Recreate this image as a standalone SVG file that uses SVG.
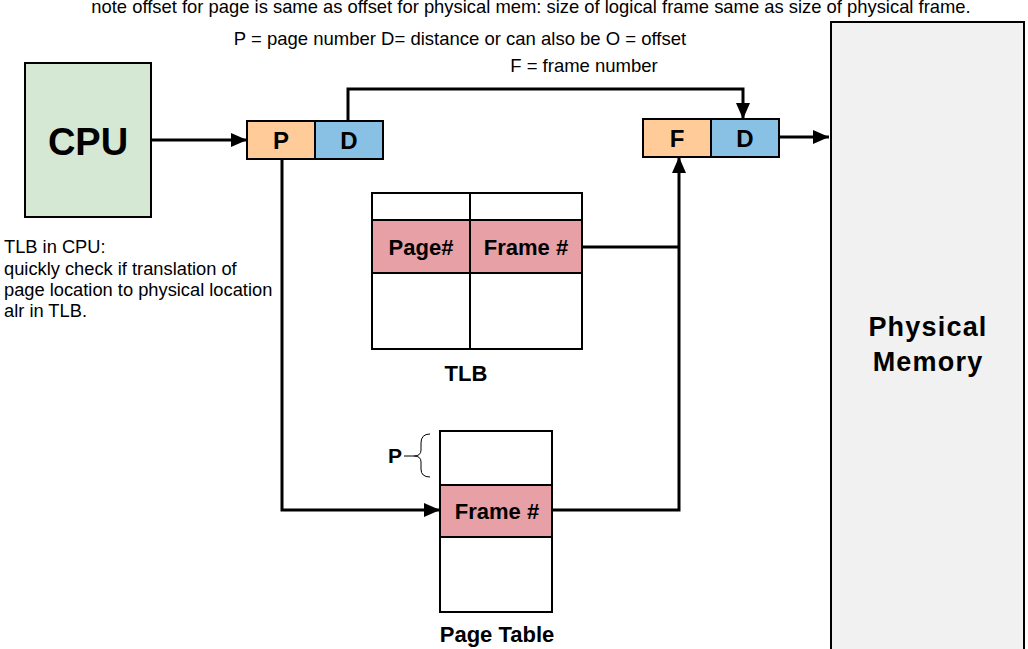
<svg xmlns="http://www.w3.org/2000/svg" width="1028" height="649" viewBox="0 0 1028 649">
<style>
.t{font-family:"Liberation Sans",Arial,sans-serif;fill:#000}
.b{font-weight:bold}
.box{stroke:#000;stroke-width:2}
.ln{fill:none;stroke:#000;stroke-width:3}
</style>
<defs>
<marker id="ah" viewBox="0 0 16 14" refX="16" refY="7" markerWidth="16" markerHeight="14" markerUnits="userSpaceOnUse" orient="auto" overflow="visible">
<path d="M0,0 L16,7 L0,14 Z" fill="#000"/>
</marker>
</defs>
<rect width="1028" height="649" fill="#fff"/>
<text class="t" x="531" y="13" font-size="18.4" text-anchor="middle">note offset for page is same as offset for physical mem: size of logical frame same as size of physical frame.</text>
<text class="t" x="460" y="45" font-size="18.5" text-anchor="middle">P = page number D= distance or can also be O = offset</text>
<text class="t" x="584" y="72" font-size="18.5" text-anchor="middle">F = frame number</text>
<g id="cpu">
<rect class="box" x="25" y="63" width="126" height="154" fill="#d5e8d4"/>
<text class="t b" x="88" y="155" font-size="38" text-anchor="middle">CPU</text>
</g>
<g id="cpu-note">
<text class="t" x="4" font-size="18.3"><tspan x="4" y="253">TLB in CPU:</tspan><tspan x="4" y="275">quickly check if translation of</tspan><tspan x="4" y="296">page location to physical location</tspan><tspan x="4" y="317">alr in TLB.</tspan></text>
</g>
<g id="logical-address">
<rect class="box" x="247" y="121" width="68" height="38" fill="#ffcc99"/>
<rect class="box" x="315" y="121" width="68" height="38" fill="#89c1e4"/>
<text class="t b" x="281" y="149" font-size="24" text-anchor="middle">P</text>
<text class="t b" x="349" y="149" font-size="24" text-anchor="middle">D</text>
</g>
<g id="physical-address">
<rect class="box" x="643" y="119" width="68" height="38" fill="#ffcc99"/>
<rect class="box" x="711" y="119" width="68" height="38" fill="#89c1e4"/>
<text class="t b" x="677" y="147" font-size="24" text-anchor="middle">F</text>
<text class="t b" x="745" y="147" font-size="24" text-anchor="middle">D</text>
</g>
<g id="tlb">
<rect class="box" x="372" y="193" width="210" height="156" fill="#fff"/>
<rect class="box" x="372" y="220" width="210" height="53" fill="#e6a0a6"/>
<line class="box" x1="470" y1="193" x2="470" y2="349"/>
<text class="t b" x="421" y="255" font-size="22" text-anchor="middle">Page#</text>
<text class="t b" x="526" y="255" font-size="22" text-anchor="middle">Frame #</text>
<text class="t b" x="466" y="381" font-size="22" text-anchor="middle">TLB</text>
</g>
<g id="page-table">
<rect class="box" x="440" y="431" width="112" height="181" fill="#fff"/>
<rect class="box" x="440" y="485" width="112" height="52" fill="#e6a0a6"/>
<text class="t b" x="497" y="519" font-size="22" text-anchor="middle">Frame #</text>
<text class="t b" x="497" y="642" font-size="22" text-anchor="middle">Page Table</text>
<path d="M430,434 Q421,434 421,443 L421,450 Q421,456 414,456 Q421,456 421,462 L421,469 Q421,477 430,477" fill="none" stroke="#000" stroke-width="1"/>
<line x1="404" y1="456" x2="414" y2="456" stroke="#000" stroke-width="1"/>
<text class="t b" x="395" y="463" font-size="21" text-anchor="middle">P</text>
</g>
<g id="physical-memory">
<rect class="box" x="831" y="22" width="193" height="640" fill="#f1f1f1"/>
<text class="t b" x="928" y="336" font-size="27" text-anchor="middle" letter-spacing="1.2">Physical</text>
<text class="t b" x="928" y="371" font-size="27" text-anchor="middle" letter-spacing="1.2">Memory</text>
</g>
<g id="connectors">
<line class="ln" x1="151" y1="140" x2="247" y2="140" marker-end="url(#ah)"/>
<polyline class="ln" points="348,121 348,89 743,89 743,119" marker-end="url(#ah)"/>
<line class="ln" x1="779" y1="137" x2="829" y2="137" marker-end="url(#ah)"/>
<polyline class="ln" points="282,159 282,510 440,510" marker-end="url(#ah)"/>
<polyline class="ln" points="552,510 679,510 679,157" marker-end="url(#ah)"/>
<line class="ln" x1="582" y1="247" x2="679" y2="247"/>
</g>
</svg>
